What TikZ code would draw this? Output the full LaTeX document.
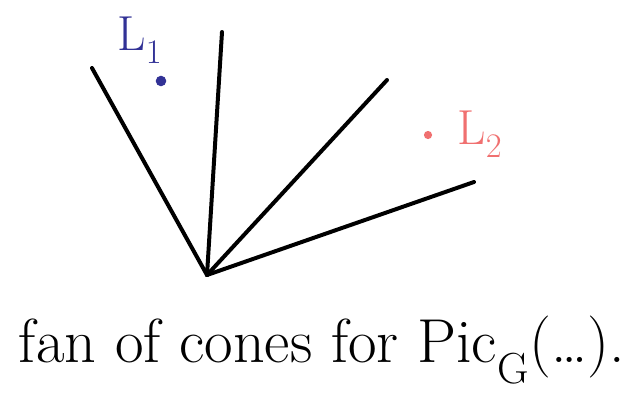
\documentclass[tikz,border=0pt]{standalone}
\usepackage{xcolor}
\definecolor{lblue}{RGB}{50,50,150}
\definecolor{lpink}{RGB}{240,112,112}
\tikzset{
    ray/.style={line width=3.4pt, line cap=round},
    pt/.style={circle, fill, inner sep=0pt, minimum size=9pt},
    lab/.style={font=\fontsize{42}{48}\selectfont}
}
\begin{document}
\begin{tikzpicture}[x=0.03cm, y=-0.03cm]

        \useasboundingbox (0,0) rectangle (641,415);

        % Vertice e raggi
        \coordinate (O) at (207,275);
        \coordinate (R1) at (92,68);
        \coordinate (R2) at (222,32);
        \coordinate (R3) at (387,80);
        \coordinate (R4) at (474,182);

        \draw[ray] (O) -- (R1);
        \draw[ray] (O) -- (R2);
        \draw[ray] (O) -- (R3);
        \draw[ray] (O) -- (R4);

        % Punti
        \node[pt, lblue] (p1) at (161,81) {};
        \node[pt, lpink, minimum size=7pt] (p2) at (428,135) {};

        % Etichette
        \node[lab, lblue] (l1) at (140,40) {L\textsubscript{1}};
        \node[lab, lpink] (l2) at (480,134) {L\textsubscript{2}};

        % Didascalia
        \node (cap) at (322,350)
        {\fontsize{53}{60}\selectfont fan of cones for Pic\textsubscript{G}(\dots).};

    \end{tikzpicture}
\end{document}
